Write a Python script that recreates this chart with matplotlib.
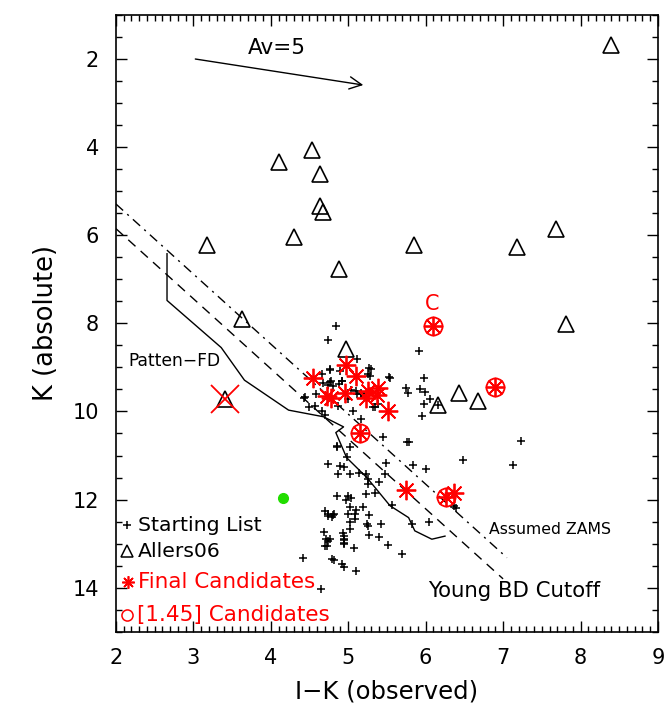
import matplotlib
matplotlib.use("Agg")
import matplotlib.pyplot as plt
from matplotlib.ticker import MultipleLocator

plt.rcParams['font.family'] = ['DejaVu Sans']

# Starting list (black plus)
start_x = [4.84, 4.74, 5.92, 5.11, 4.76, 4.89, 5.29, 5.25, 4.66, 5.54, 5.98, 4.76, 4.92,
           5.75, 5.77, 5.93, 5.99, 4.59, 5.10, 5.17, 4.43, 5.00, 6.05, 4.50, 4.57, 4.87,
           5.35, 5.98, 4.66, 4.70, 5.06, 5.95, 5.16, 5.45, 5.78, 7.23, 4.85, 5.02, 6.48,
           7.13, 4.74, 4.89, 4.95, 5.49, 5.84, 6.00, 4.98, 4.87, 5.02, 5.14, 5.23, 5.47,
           5.25, 5.26, 5.40, 5.35, 5.23, 4.86, 5.00, 5.04, 4.97, 5.02, 5.19, 5.56, 6.39,
           6.36, 4.70, 4.74, 4.79, 4.82, 5.00, 5.10, 5.09, 5.09, 5.27, 5.02, 5.24, 5.25,
           5.42, 5.82, 6.04, 5.02, 4.69, 5.27, 4.76, 4.74, 4.95, 4.94, 4.95, 5.40, 4.70,
           5.07, 5.52, 4.42, 4.79, 4.82, 4.92, 4.95, 5.10, 5.69, 4.65, 4.76, 5.27, 5.28,
           5.53, 4.68, 4.74, 4.78, 4.80, 4.88, 4.92, 5.04, 5.11, 5.17, 4.44, 4.85, 5.32,
           5.38, 5.76, 4.71, 4.74, 4.72, 4.93, 4.94, 4.94, 4.80, 6.16]
start_k = [8.05, 8.38, 8.62, 8.81, 9.05, 9.08, 9.04, 9.14, 9.15, 9.23, 9.23, 9.33, 9.30,
           9.47, 9.57, 9.49, 9.55, 9.60, 9.53, 9.57, 9.70, 9.72, 9.72, 9.89, 9.87, 9.87,
           9.91, 9.83, 9.98, 10.07, 10.00, 10.10, 10.17, 10.59, 10.70, 10.67, 10.80, 10.80, 11.10,
           11.21, 11.20, 11.23, 11.25, 11.16, 11.21, 11.30, 11.03, 11.43, 11.42, 11.39, 11.42, 11.42,
           11.54, 11.65, 11.61, 11.84, 11.88, 11.92, 11.92, 11.97, 12.01, 12.17, 12.18, 12.12, 12.20,
           12.14, 12.26, 12.33, 12.39, 12.33, 12.33, 12.24, 12.33, 12.45, 12.35, 12.52, 12.56, 12.60,
           12.56, 12.56, 12.51, 12.67, 12.73, 12.80, 12.89, 12.94, 12.83, 12.90, 12.98, 12.86, 13.05,
           13.10, 13.03, 13.33, 13.36, 13.38, 13.47, 13.53, 13.62, 13.24, 14.04, 9.04, 9.01, 9.19,
           9.22, 9.35, 9.40, 9.30, 9.43, 9.38, 9.32, 9.51, 9.60, 9.60, 9.68, 10.79, 9.91,
           9.83, 10.69, 12.90, 12.37, 13.05, 12.75, 12.92, 13.01, 12.35, 9.85]

# Allers06 (triangles)
allers_x = [8.40, 4.10, 4.53, 4.64, 4.64, 4.68, 4.30, 3.17, 5.85, 7.18, 7.68, 4.88,
            7.81, 3.63, 4.97, 3.41, 6.43, 6.67, 6.16]
allers_k = [1.69, 4.34, 4.07, 4.60, 5.33, 5.48, 6.05, 6.23, 6.23, 6.26, 5.85, 6.76,
            8.01, 7.90, 8.58, 9.72, 9.57, 9.76, 9.85]

# Final candidates (red asterisks)
final_x = [4.54, 4.97, 5.10, 4.72, 4.78, 4.96, 5.26, 5.38, 5.23, 5.37, 5.51,
           6.09, 6.89, 5.15, 5.75, 6.26, 6.36]
final_k = [9.24, 8.95, 9.19, 9.65, 9.70, 9.57, 9.53, 9.47, 9.70, 9.62, 9.98,
           8.05, 9.44, 10.48, 11.79, 11.94, 11.84]

# [1.45] candidates (red circles)
c145_x = [6.09, 6.89, 5.15, 6.26]
c145_k = [8.05, 9.44, 10.48, 11.94]

# Rejected object (big red X) and green point
rej_x, rej_k = [3.41], [9.72]
green_x, green_k = [4.16], [11.96]

# Patten-FD track
patten_x = [2.66, 2.66, 3.36, 3.66, 4.23, 4.68, 4.94, 4.84, 4.98, 5.24, 5.54, 5.78, 5.86, 6.08, 6.25]
patten_k = [6.42, 7.48, 8.55, 9.29, 9.97, 10.12, 10.35, 10.48, 11.05, 11.50, 12.14, 12.41, 12.71, 12.90, 12.83]

# Young BD cutoff (dashed) and assumed ZAMS (dash-dot)
ybd_x, ybd_k = [2.0, 7.0], [5.85, 13.80]
zams_x, zams_k = [2.0, 7.05], [5.29, 13.32]

# Reddening vector
av_x, av_k = [2.99, 5.23], [1.99, 2.60]

fig = plt.figure(figsize=(6.70, 7.13), dpi=100)
ax = fig.add_axes([0.173, 0.114, 0.809, 0.865])

ax.plot(patten_x, patten_k, color='black', lw=1.0)
ax.plot(ybd_x, ybd_k, color='black', lw=1.0, dashes=(7, 5))
ax.plot(zams_x, zams_k, color='black', lw=1.0, dashes=(7, 4, 1.5, 4))

ax.plot(start_x, start_k, linestyle='none', marker='+', color='black', ms=5.5, mew=1.1)
ax.plot(allers_x, allers_k, linestyle='none', marker='^', ms=12, mfc='none', mec='black', mew=1.2)
ax.plot(final_x, final_k, linestyle='none', marker=(8, 2, 0), ms=14, color='red', mew=1.3)
ax.plot(c145_x, c145_k, linestyle='none', marker='o', ms=13, mfc='none', mec='red', mew=1.3)
ax.plot(rej_x, rej_k, linestyle='none', marker='x', ms=20, color='red', mew=1.3)
ax.plot(green_x, green_k, linestyle='none', marker='o', ms=7, color='#22dd00', mec='#22dd00')

ax.annotate('', xy=(av_x[1], av_k[1]), xytext=(av_x[0], av_k[0]),
            arrowprops=dict(arrowstyle='->', color='black', lw=1.0, mutation_scale=22))
ax.text(4.08, 1.74, 'Av=5', fontsize=15.5, ha='center', va='center')

ax.text(2.16, 8.85, 'Patten−FD', fontsize=12.3, ha='left', va='center')
ax.text(6.82, 12.67, 'Assumed ZAMS', fontsize=11.3, ha='left', va='center')
ax.text(6.03, 14.07, 'Young BD Cutoff', fontsize=15.3, ha='left', va='center')
ax.text(6.09, 7.55, 'C', fontsize=15, color='red', ha='center', va='center')

# Legend drawn as in the original
lx, tx = 2.14, 2.29
ax.plot([lx], [12.58], marker='+', color='black', ms=5.5, mew=1.1, linestyle='none')
ax.text(tx, 12.58, 'Starting List', fontsize=14.7, va='center', ha='left')
ax.plot([lx], [13.17], marker='^', ms=8, mfc='none', mec='black', mew=1.1, linestyle='none')
ax.text(tx - 0.01, 13.17, 'Allers06', fontsize=14.7, va='center', ha='left')
ax.plot([lx + 0.02], [13.88], marker=(8, 2, 0), ms=9, color='red', mew=1.2, linestyle='none')
ax.text(tx, 13.88, 'Final Candidates', fontsize=15.5, va='center', ha='left', color='red')
ax.plot([lx], [14.62], marker='o', ms=8, mfc='none', mec='red', mew=1.1, linestyle='none')
ax.text(tx - 0.02, 14.62, '[1.45] Candidates', fontsize=15.5, va='center', ha='left', color='red')

ax.set_xlim(2, 9)
ax.set_ylim(15, 1)
ax.xaxis.set_major_locator(MultipleLocator(1))
ax.xaxis.set_minor_locator(MultipleLocator(0.1))
ax.yaxis.set_major_locator(MultipleLocator(2))
ax.yaxis.set_minor_locator(MultipleLocator(0.5))
ax.tick_params(which='both', direction='in', top=True, right=True, width=1.0)
ax.tick_params(which='major', length=8, labelsize=15, pad=12)
ax.tick_params(which='minor', length=4)
for s in ax.spines.values():
    s.set_linewidth(1.2)

ax.set_xlabel('I−K (observed)', fontsize=17.5, labelpad=8)
ax.set_ylabel('K (absolute)', fontsize=18.5, labelpad=10)

fig.savefig('out.png', dpi=100)
